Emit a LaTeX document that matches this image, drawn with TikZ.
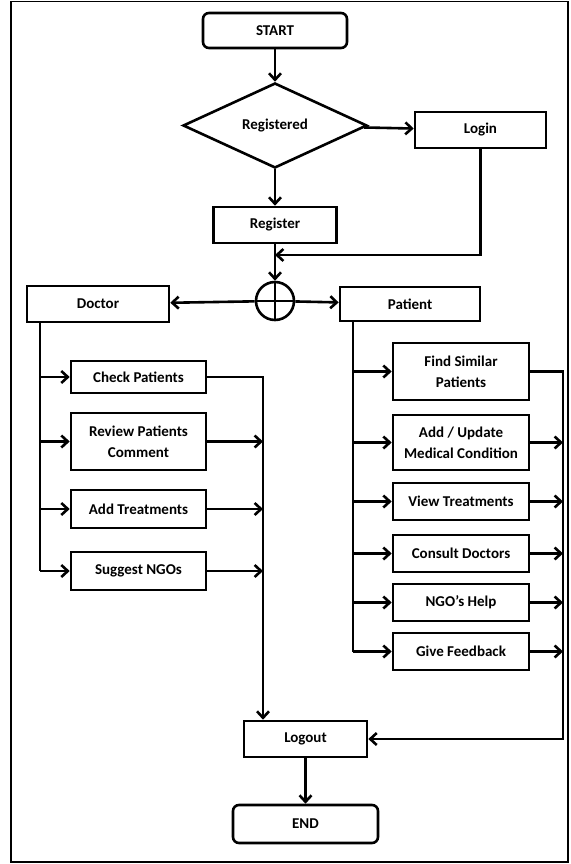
\documentclass[tikz,border=0pt]{standalone}
\usepackage{fontspec}
\setmainfont{Carlito}
\usetikzlibrary{arrows.meta,shapes.geometric,calc}
\begin{document}
\begin{tikzpicture}[x=1pt,y=-1pt,
  every node/.style={font=\fontsize{15}{21}\selectfont\bfseries, text=black},
  box/.style={draw, line width=2.6pt, inner sep=0pt, align=center},
  term/.style={box, rounded corners=6pt},
  conn/.style={line width=2.6pt},
  arr/.style={conn, -{Straight Barb[length=6.5pt,width=12pt]}}
]
\useasboundingbox (0,0) rectangle (570,864);
\draw[line width=1.4pt] (11,1.5) rectangle (568,862);

% main flow
\node[term, minimum width=144pt, minimum height=35pt] (start) at (275,30.5) {START};
\node[box, shape=diamond, minimum width=184pt, minimum height=85pt] (reg) at (275,125.5) {Registered};
\node[box, minimum width=131pt, minimum height=36pt] (login) at (480.5,130) {Login};
\node[box, minimum width=123pt, minimum height=36pt] (register) at (275,225) {Register};
\node[draw, circle, line width=2.6pt, minimum size=38pt, inner sep=0pt,
  path picture={\draw[line width=2.6pt] (path picture bounding box.north) -- (path picture bounding box.south)
  (path picture bounding box.west) -- (path picture bounding box.east);}] (circ) at (275,301) {};
\coordinate (j) at (275,255);

\draw[arr] (start) -- (reg);
\draw[arr] (reg) -- (login);
\draw[arr] (reg) -- (register);
\draw[arr] (register) -- (circ);
\draw[arr] (login.south) |- (j);

% doctor / patient
\node[box, minimum width=142pt, minimum height=36pt] (doctor) at (98,304) {Doctor};
\node[box, minimum width=140pt, minimum height=34pt] (patient) at (410,304) {Patient};
\draw[arr] (circ) -- (doctor);
\draw[arr] (circ) -- (patient);

% doctor branch
\coordinate (dt) at (40,0);
\coordinate (dc) at (263,0);
\node[box, minimum width=135pt, minimum height=32pt] (cp) at (138.5,377) {Check Patients};
\node[box, minimum width=135pt, minimum height=57pt] (rpc) at (138.5,441.5) {Review Patients\\Comment};
\node[box, minimum width=135pt, minimum height=38pt] (at) at (138.5,509) {Add Treatments};
\node[box, minimum width=135pt, minimum height=38pt] (sn) at (138.5,571) {Suggest NGOs};

\draw[conn] (doctor.south -| dt) -- (sn.west -| dt);
\foreach \n in {cp,rpc,at,sn}{\draw[arr] (\n.west -| dt) -- (\n.west);}

% logout / end
\node[box, minimum width=123pt, minimum height=36pt] (logout) at (305.5,739) {Logout};
\node[term, minimum width=145pt, minimum height=38pt] (end) at (305.5,824) {END};

\draw[arr] (cp.east) -| (logout.north -| dc);
\foreach \n in {rpc,at,sn}{\draw[arr] (\n.east) -- (\n.east -| dc);}
\draw[arr] (logout) -- (end);

% patient branch
\coordinate (pt) at (353,0);
\coordinate (pc) at (563,600);
\node[box, minimum width=136pt, minimum height=57pt] (fsp) at (461,371.5) {Find Similar\\Patients};
\node[box, minimum width=136pt, minimum height=55pt] (aum) at (461,442.5) {Add / Update\\Medical Condition};
\node[box, minimum width=136pt, minimum height=37pt] (vt) at (461,501.5) {View Treatments};
\node[box, minimum width=136pt, minimum height=37pt] (cd) at (461,553.5) {Consult Doctors};
\node[box, minimum width=136pt, minimum height=37pt] (ngo) at (461,602.5) {NGO’s Help};
\node[box, minimum width=136pt, minimum height=37pt] (gf) at (461,651.5) {Give Feedback};

\draw[conn] (patient.south -| pt) -- (gf.west -| pt);
\foreach \n in {fsp,aum,vt,cd,ngo,gf}{\draw[arr] (\n.west -| pt) -- (\n.west);}
\draw[arr] (fsp.east) -| (pc) |- (logout.east);
\foreach \n in {aum,vt,cd,ngo,gf}{\draw[arr] (\n.east) -- (\n.east -| pc);}
\end{tikzpicture}
\end{document}
